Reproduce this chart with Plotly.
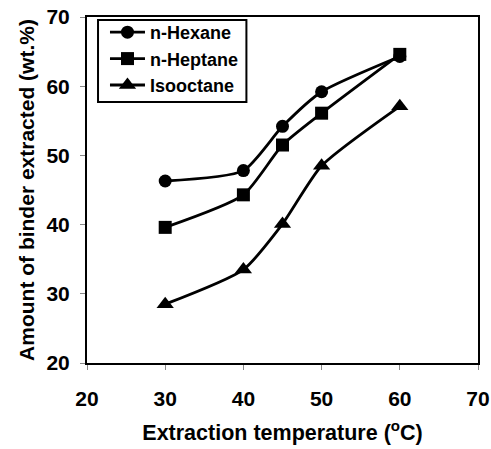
import plotly.graph_objects as go

temps = [30, 40, 45, 50, 60]
hexane = [46.3, 47.8, 54.2, 59.2, 64.3]
heptane = [39.6, 44.3, 51.5, 56.1, 64.6]
isooctane = [28.5, 33.5, 40.1, 48.5, 57.1]
names = ["n-Hexane", "n-Heptane", "Isooctane"]
symbols = ["circle", "square", "triangle-up"]
x_ticks = [20, 30, 40, 50, 60, 70]
y_ticks = [20, 30, 40, 50, 60, 70]

FONT = "Liberation Sans, Arial, sans-serif"

fig = go.Figure()
for name, vals, sym in zip(names, [hexane, heptane, isooctane], symbols):
    fig.add_trace(go.Scatter(
        x=temps, y=vals, name=name, mode="lines+markers",
        line=dict(color="black", width=2.8, shape="spline", smoothing=0.6),
        marker=dict(symbol=sym, size=13 if sym != "triangle-up" else 15, color="black"),
    ))

axis_common = dict(
    showline=True, linecolor="black", linewidth=2, mirror=True,
    ticks="outside", ticklen=5, tickcolor="#888", tickwidth=1,
    showgrid=False, zeroline=False, automargin=False,
    tickfont=dict(family=FONT, size=21, color="black", weight="bold"),
)

# legend frame (decoration)
fig.add_shape(type="rect", xref="paper", yref="paper",
              x0=0.0282, x1=0.4077, y0=0.7543, y1=0.9913,
              line=dict(color="black", width=2), fillcolor="white", layer="below")

fig.update_layout(
    width=491, height=449,
    margin=dict(l=87, r=13, t=17, b=86, autoexpand=False),
    paper_bgcolor="white", plot_bgcolor="white",
    xaxis=dict(range=[20, 70], tickvals=x_ticks, ticklabelstandoff=11,
               title=dict(text="Extraction temperature (<sup>o</sup>C)", standoff=16,
                          font=dict(family=FONT, size=21.5, color="black", weight="bold")),
               **axis_common),
    yaxis=dict(range=[20, 70], tickvals=y_ticks, ticklabelstandoff=6,
               title=dict(text="Amount of binder extracted (wt.%)", standoff=6,
                          font=dict(family=FONT, size=21, color="black", weight="bold")),
               **axis_common),
    legend=dict(x=0.046, y=1.0087, xanchor="left", yanchor="top",
                bgcolor="rgba(0,0,0,0)", borderwidth=0,
                font=dict(family=FONT, size=18, color="black", weight="bold"),
                itemwidth=35, tracegroupgap=0),
    showlegend=True,
)

fig.write_html("out.html")
